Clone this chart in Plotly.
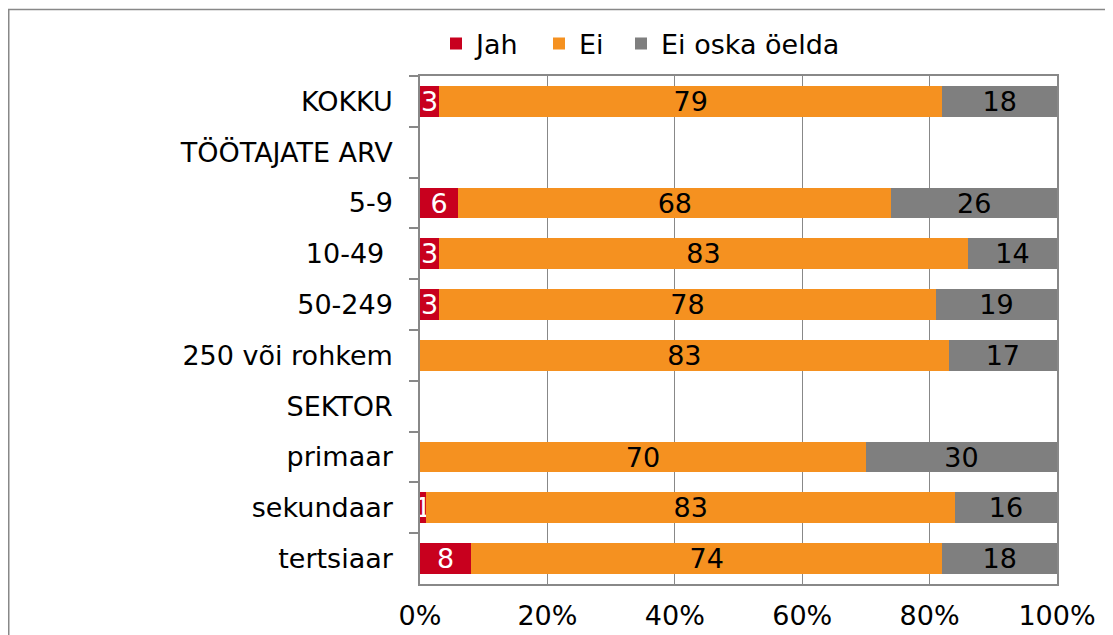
import plotly.graph_objects as go

categories = ["KOKKU", "TÖÖTAJATE ARV", "5-9", "10-49\u00a0", "50-249", "250 või rohkem",
              "SEKTOR", "primaar", "sekundaar", "tertsiaar"]
jah = [3, None, 6, 3, 3, 0, None, 0, 1, 8]
ei = [79, None, 68, 83, 78, 83, None, 70, 83, 74]
ei_oska = [18, None, 26, 14, 19, 17, None, 30, 16, 18]
series_names = ["Jah", "Ei", "Ei oska öelda"]
colors = ["#C8001E", "#F59120", "#7F7F7F"]
text_colors = ["white", "black", "black"]
tick_vals = [0, 0.2, 0.4, 0.6, 0.8, 1.0]

FONT = "DejaVu Sans, Verdana, sans-serif"
FS = 27

# page has an 8px body margin, so the figure is sized/positioned accordingly
W, H = 1105, 627
L, R, T, B = 412, 56, 68, 51
pw, ph = W - L - R, H - T - B


def px_x(p):
    return (p - L) / pw


def px_y(p):
    return (H - B - p) / ph


legend_ids = ["legend", "legend2", "legend3"]
legend_left = [428, 531, 613]

fig = go.Figure()
for name, vals, col, tcol, lid in zip(series_names, [jah, ei, ei_oska], colors, text_colors, legend_ids):
    xs = [None if v is None else v / 100 for v in vals]
    txt = ["" if (v is None or v == 0) else str(v) for v in vals]
    fig.add_trace(go.Bar(
        y=categories, x=xs, name=name, orientation="h", legend=lid, showlegend=True,
        marker=dict(color=col, line=dict(width=0)),
        text=txt, textposition="inside", insidetextanchor="middle", textangle=0,
        textfont=dict(color=tcol, size=FS, family=FONT),
        constraintext="none", cliponaxis=False, hoverinfo="skip",
    ))

legend_common = dict(orientation="h", xanchor="left", y=px_y(36), yanchor="middle",
                     font=dict(size=FS, family=FONT, color="black"),
                     bgcolor="rgba(0,0,0,0)", borderwidth=0, visible=True)

fig.update_layout(
    width=W, height=H, barmode="stack", bargap=0.39, showlegend=True,
    margin=dict(l=L, r=R, t=T, b=B, autoexpand=False),
    paper_bgcolor="white", plot_bgcolor="white",
    font=dict(family=FONT, size=FS, color="black"),
    uniformtext=dict(minsize=FS, mode="show"),
    legend=dict(x=px_x(legend_left[0]), **legend_common),
    legend2=dict(x=px_x(legend_left[1]), **legend_common),
    legend3=dict(x=px_x(legend_left[2]), **legend_common),
    xaxis=dict(range=[0, 1], tickvals=tick_vals, tickformat=".0%", showgrid=True,
               gridcolor="#888888", gridwidth=1.3, showline=True, linecolor="#888888",
               linewidth=1.5, mirror=True, ticks="", zeroline=False,
               tickfont=dict(size=FS), ticklabelstandoff=7, fixedrange=True),
    yaxis=dict(autorange="reversed", type="category", showline=True, linecolor="#888888",
               linewidth=1.5, mirror=True, ticks="outside", ticklen=9, tickcolor="#888888",
               tickwidth=1.5, tickson="boundaries", showgrid=False,
               tickfont=dict(size=FS), ticklabelstandoff=20, fixedrange=True),
    shapes=[dict(type="rect", xref="paper", yref="paper",
                 x0=px_x(0.75), x1=px_x(1300), y0=px_y(800), y1=px_y(1.5),
                 line=dict(color="#888888", width=1.5), fillcolor="rgba(0,0,0,0)", layer="below")],
)

fig.write_html("out.html")
